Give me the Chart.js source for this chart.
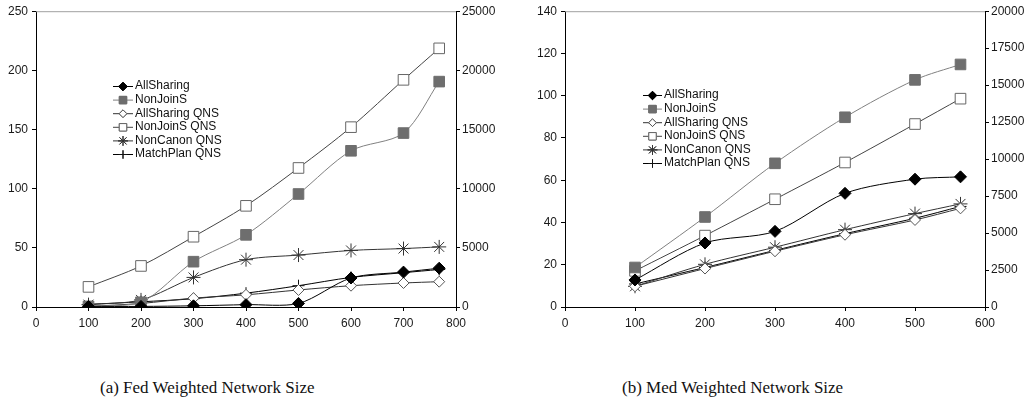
<!DOCTYPE html>
<html>
<head>
<meta charset="utf-8">
<script src="https://cdn.jsdelivr.net/npm/chart.js@4.4.1/dist/chart.umd.min.js"></script>
<style>
  body { margin: 0; background: #fff; width: 1029px; height: 405px; position: relative; overflow: hidden; }
  .panel { position: absolute; top: 0; }
  .caption { position: absolute; top: 378px; font-family: "Liberation Serif", "DejaVu Serif", serif; font-size: 17px; color: #111; white-space: nowrap; }
</style>
</head>
<body>
<div class="panel" style="left:0px"><canvas id="fedChart" width="515" height="340"></canvas></div>
<div class="panel" style="left:514px"><canvas id="medChart" width="515" height="340"></canvas></div>
<div class="caption" style="left:100px">(a) Fed Weighted Network Size</div>
<div class="caption" style="left:622px">(b) Med Weighted Network Size</div>
<script>
// ---- data (a) Fed ----
const fedSizes = [100, 200, 300, 400, 500, 600, 700, 768];
const fedAllSharing    = [0.5, 0.5, 1, 2, 3, 24.5, 29.5, 32.8];
const fedNonJoinS      = [0.5, 4, 38.3, 61, 95.5, 132, 147, 190.5];
const fedAllSharingQNS = [0.5, 3, 7.5, 10.3, 14.4, 18, 20.3, 21.4];
const fedNonJoinSQNS   = [17, 34.7, 59.4, 85.5, 117.5, 152, 192, 218.6];
const fedNonCanonQNS   = [2, 6, 25, 40, 43.9, 47.8, 49.4, 50.8];
const fedMatchPlanQNS  = [2.2, 4.4, 7, 11.7, 18, 25, 29, 31.7];

// ---- data (b) Med ----
const medSizes = [100, 200, 300, 400, 500, 565];
const medAllSharing    = [12.8, 30.3, 35.8, 53.8, 60.5, 61.6];
const medNonJoinS      = [18.7, 42.6, 68, 89.8, 107.5, 114.8];
const medAllSharingQNS = [9.8, 18.2, 26.4, 34.2, 41.2, 46.7];
const medNonJoinSQNS   = [17.1, 33.8, 51, 68.4, 86.6, 98.6];
const medNonCanonQNS   = [9.8, 20.2, 28.3, 36.6, 44.2, 48.8];
const medMatchPlanQNS  = [10.9, 18.7, 26.8, 34.7, 42, 47.6];

const seriesNames = ['AllSharing', 'NonJoinS', 'AllSharing QNS', 'NonJoinS QNS', 'NonCanon QNS', 'MatchPlan QNS'];

// axis ranges / ticks
const fedXMax = 800, fedYMax = 250, fedYStep = 50, fedY2Max = 25000, fedY2Step = 5000;
const medXMax = 600, medYMax = 140, medYStep = 20, medY2Max = 20000, medY2Step = 2500;

const FONT = '"Liberation Sans", Arial, sans-serif';

const styles = [
  { line: '#000', pointStyle: 'rectRot', radius: 6, fill: '#000', border: '#000' },
  { line: '#808080', pointStyle: 'rect', radius: 7.5, fill: '#6e6e6e', border: '#6e6e6e' },
  { line: '#333', pointStyle: 'rectRot', radius: 5.5, fill: '#fff', border: '#555' },
  { line: '#444', pointStyle: 'rect', radius: 7.5, fill: '#fff', border: '#666' },
  { line: '#333', pointStyle: 'star', radius: 7, fill: '#fff', border: '#333' },
  { line: '#000', pointStyle: 'cross', radius: 6, fill: '#fff', border: '#111' }
];

function pts(xs, ys) {
  return xs.map((x, i) => ({ x: x, y: ys[i] }));
}

function makeDatasets(xs, list) {
  return list.map((ys, i) => ({
    label: seriesNames[i],
    data: pts(xs, ys),
    borderColor: styles[i].line,
    borderWidth: 1,
    tension: 0.3,
    pointStyle: styles[i].pointStyle,
    pointRadius: styles[i].radius,
    pointBackgroundColor: styles[i].fill,
    pointBorderColor: styles[i].border,
    pointBorderWidth: 1,
    yAxisID: 'y'
  }));
}

// legend drawn inside the plot + light top border
const insideLegend = {
  id: 'insideLegend',
  afterDraw(chart, args, opts) {
    const ctx = chart.ctx;
    const a = chart.chartArea;
    ctx.save();
    ctx.strokeStyle = '#a0a0a0';
    ctx.lineWidth = 1;
    ctx.beginPath();
    ctx.moveTo(a.left, a.top + 0.5);
    ctx.lineTo(a.right, a.top + 0.5);
    ctx.stroke();

    ctx.font = '12px ' + FONT;
    ctx.textBaseline = 'middle';
    chart.data.datasets.forEach((ds, i) => {
      const y = opts.y + i * opts.rowH;
      ctx.strokeStyle = ds.borderColor;
      ctx.lineWidth = 1;
      ctx.beginPath();
      ctx.moveTo(opts.x, y + 0.5);
      ctx.lineTo(opts.x + opts.len, y + 0.5);
      ctx.stroke();
      ctx.fillStyle = ds.pointBackgroundColor;
      ctx.strokeStyle = ds.pointBorderColor;
      Chart.helpers.drawPoint(ctx, {
        pointStyle: ds.pointStyle,
        rotation: 0,
        radius: ds.pointRadius * 0.7,
        borderWidth: 1
      }, opts.x + opts.len / 2, y + 0.5);
      if (ds.pointStyle !== 'star' && ds.pointStyle !== 'cross') ctx.fill();
      ctx.stroke();
      ctx.fillStyle = '#111';
      ctx.fillText(ds.label, opts.x + opts.len + 2, y);
    });
    ctx.restore();
  }
};

function makeChart(id, xs, list, cfg) {
  const tickFont = { family: FONT, size: 12 };
  return new Chart(document.getElementById(id), {
    type: 'line',
    data: { datasets: makeDatasets(xs, list) },
    options: {
      responsive: false,
      animation: false,
      layout: { padding: { top: 7, left: 0, right: 0, bottom: 0 } },
      scales: {
        x: {
          type: 'linear', min: 0, max: cfg.xMax,
          ticks: { stepSize: 100, autoSkip: false, maxRotation: 0, padding: 5, color: '#1a1a1a', font: tickFont },
          grid: { drawOnChartArea: false, tickLength: 4, color: '#000' },
          border: { color: '#000', width: 1 },
          afterFit: s => { s.height = 33; }
        },
        y: {
          position: 'left', min: 0, max: cfg.yMax,
          ticks: { stepSize: cfg.yStep, padding: 4, color: '#1a1a1a', font: tickFont },
          grid: { drawOnChartArea: false, tickLength: 4, color: '#000' },
          border: { color: '#000', width: 1 },
          afterFit: s => { s.width = cfg.leftW; }
        },
        y2: {
          position: 'right', min: 0, max: cfg.y2Max,
          ticks: { stepSize: cfg.y2Step, padding: 2, color: '#1a1a1a', font: tickFont, callback: v => String(v) },
          grid: { drawOnChartArea: false, tickLength: 4, color: '#000' },
          border: { color: '#000', width: 1 },
          afterFit: s => { s.width = cfg.rightW; }
        }
      },
      plugins: {
        legend: { display: false },
        tooltip: { enabled: false },
        insideLegend: cfg.legend
      }
    },
    plugins: [insideLegend]
  });
}

makeChart('fedChart', fedSizes,
  [fedAllSharing, fedNonJoinS, fedAllSharingQNS, fedNonJoinSQNS, fedNonCanonQNS, fedMatchPlanQNS],
  { xMax: fedXMax, yMax: fedYMax, yStep: fedYStep, y2Max: fedY2Max, y2Step: fedY2Step,
    leftW: 36, rightW: 59, legend: { x: 113, y: 86, rowH: 13.6, len: 20 } });

makeChart('medChart', medSizes,
  [medAllSharing, medNonJoinS, medAllSharingQNS, medNonJoinSQNS, medNonCanonQNS, medMatchPlanQNS],
  { xMax: medXMax, yMax: medYMax, yStep: medYStep, y2Max: medY2Max, y2Step: medY2Step,
    leftW: 51, rightW: 44, legend: { x: 129, y: 95, rowH: 13.6, len: 19 } });
</script>
</body>
</html>
